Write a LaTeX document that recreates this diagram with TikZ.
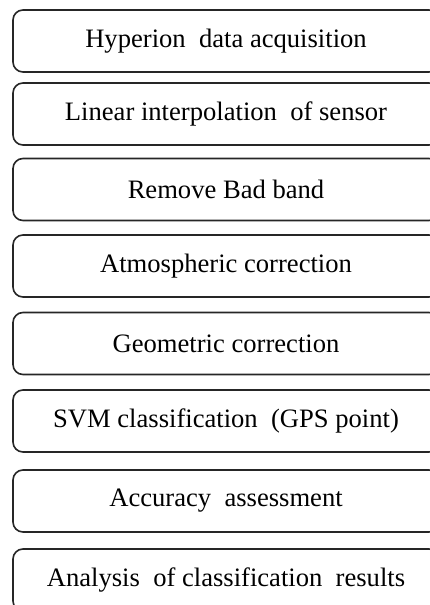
\documentclass[tikz,border=0pt]{standalone}
\usepackage{fontspec}
\setmainfont{Liberation Serif}
\usetikzlibrary{positioning}

\tikzset{
  stepbox/.style={draw=black!85, line width=1.6pt, rounded corners=10pt,
    minimum width=426pt, minimum height=62pt, inner sep=0pt,
    font=\fontsize{26.6}{30}\selectfont}
}

\begin{document}
\begin{tikzpicture}[x=1pt, y=1pt]
  \useasboundingbox (0,0) rectangle (430,-605);
  \clip (0,0) rectangle (430,-605);
  % Processing steps
  \foreach \i/\y/\t in {1/41/Hyperion\ \ data acquisition,
                        2/114/Linear interpolation\ \ of sensor,
                        3/189.5/Remove Bad band,
                        4/266/Atmospheric correction,
                        5/343.5/Geometric correction,
                        6/421/SVM classification\ \ (GPS point),
                        7/501/Accuracy\ \ assessment,
                        8/580/Analysis\ \ of classification\ \ results} {
    \node[stepbox] (s\i) at (226, -\y) {\t};
  }
\end{tikzpicture}
\end{document}
